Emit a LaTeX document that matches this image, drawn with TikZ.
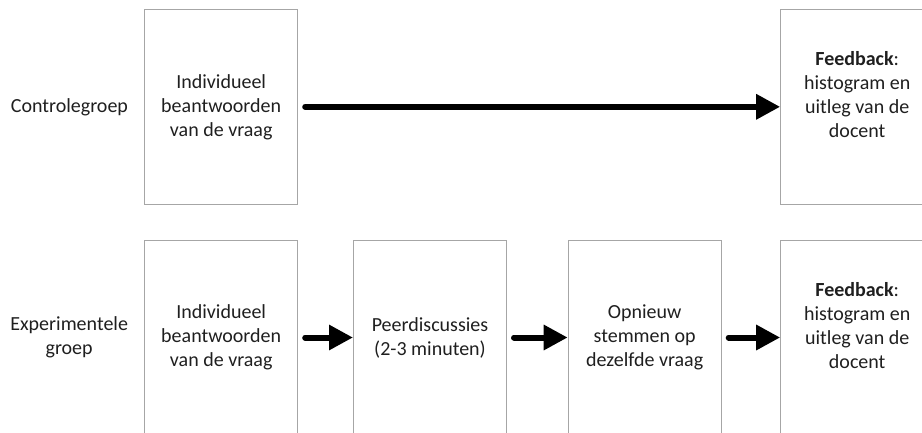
\documentclass[tikz,border=0pt]{standalone}
\usepackage{fontspec}
\setmainfont{Carlito}
\usetikzlibrary{positioning,arrows.meta}

\tikzset{
  stage/.style={draw=black!35, line width=1pt, minimum width=153pt, minimum height=195pt,
    align=center, inner sep=0pt, text=black!88, font=\fontsize{20}{24}\selectfont},
  groep/.style={align=center, inner sep=0pt, text=black!88, font=\fontsize{20}{24}\selectfont},
  flow/.style={line width=6pt, line cap=round, -{Triangle[length=24pt,width=24pt]}, shorten <=7pt},
}

\begin{document}
\begin{tikzpicture}[x=1pt,y=1pt]
  \useasboundingbox (0,0) rectangle (922,-432);
  \clip (0,0) rectangle (922,-432);
  % control group
  \node[stage] (ci) at (221.2,-106.8) {Individueel\\beantwoorden\\van de vraag};
  \node[stage] (cf) at (857.2,-106.8) {\textbf{Feedback}:\\histogram en\\uitleg van de\\docent\\\mbox{}};
  \node[groep, left=16pt of ci] (cl) {Controlegroep};
  \draw[flow] (ci) -- (cf);
  % experimental group
  \node[stage] (ei) at (221.2,-337.5) {Individueel\\beantwoorden\\van de vraag};
  \node[stage] (ep) at (430,-337.5) {Peerdiscussies\\(2-3 minuten)};
  \node[stage] (eo) at (644.7,-337.5) {Opnieuw\\stemmen op\\dezelfde vraag};
  \node[stage] (ef) at (857.2,-337.5) {\textbf{Feedback}:\\histogram en\\uitleg van de\\docent\\\mbox{}};
  \node[groep, left=16pt of ei] (el) {Experimentele\\groep};
  \draw[flow] (ei) -- (ep);
  \draw[flow] (ep) -- (eo);
  \draw[flow] (eo) -- (ef);
\end{tikzpicture}
\end{document}
